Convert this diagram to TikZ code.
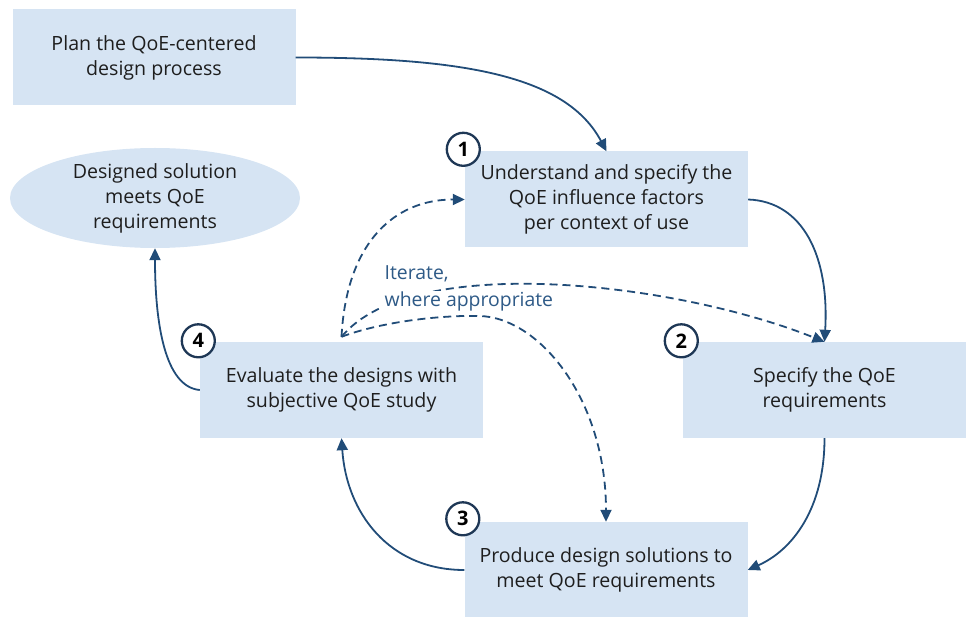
\documentclass[tikz,border=0pt]{standalone}
\usepackage{fontspec}
\setmainfont{Open Sans}
\usetikzlibrary{shapes.geometric,arrows.meta}
\definecolor{boxfill}{RGB}{214,228,243}
\definecolor{arrowc}{RGB}{33,76,120}
\definecolor{circc}{RGB}{30,55,85}
\definecolor{txtc}{RGB}{30,30,30}
\definecolor{lblc}{RGB}{46,90,135}
\begin{document}
\begin{tikzpicture}[x=1pt,y=-1pt,
  stepbox/.style={fill=boxfill, draw=none, minimum width=283pt, minimum height=96pt, inner sep=0pt, align=center, text=txtc, font=\fontsize{19.6}{25}\selectfont},
  endoval/.style={ellipse, fill=boxfill, draw=none, minimum width=290pt, minimum height=100pt, inner sep=0pt, align=center, text=txtc, font=\fontsize{19.6}{25}\selectfont},
  numc/.style={circle, draw=circc, line width=2.3pt, fill=white, minimum size=33pt, inner sep=0pt, text=black, font=\fontsize{20}{20}\selectfont\bfseries},
  flow/.style={draw=arrowc, line width=1.8pt, -{Triangle[length=12pt,width=11pt]}},
  iter/.style={flow, dash pattern=on 8pt off 5pt},
  lbl/.style={fill=white, text=lblc, inner sep=1.5pt, anchor=base west, font=\fontsize{19.4}{22}\selectfont}
]
\useasboundingbox (0,0) rectangle (966,617);

\node[stepbox] (plan) at (154,57.5) {Plan the QoE-centered\\design process};
\node[stepbox] (b1) at (606.5,199.5) {Understand and specify the\\QoE influence factors\\per context of use};
\node[stepbox] (b2) at (824.5,390) {Specify the QoE\\requirements};
\node[stepbox] (b3) at (606,570) {Produce design solutions to\\meet QoE requirements};
\node[stepbox] (b4) at (341.5,390) {Evaluate the designs with\\subjective QoE study};
\node[endoval] (done) at (155,198) {Designed solution\\meets QoE\\requirements};

\coordinate (O) at ([yshift=5pt]b4.north);
\coordinate (m1) at (480,316);

% solid flow
\draw[flow] (plan.east) .. controls +(170,0) and +(-40,-75) .. (b1.north);
\draw[flow] (b1.east) .. controls +(55,2) and +(5,-85) .. (b2.north);
\draw[flow] (b2.south) .. controls +(0,70) and +(45,-20) .. (b3.east);
\draw[flow] (b3.west) .. controls +(-75,0) and +(5,75) .. (b4.south);
\draw[flow] (b4.west) .. controls +(-35,-3) and +(0,75) .. (done.south);

% iteration (dashed)
\draw[iter] (O) .. controls +(5,-95) and +(-70,0) .. (b1.west);
\draw[iter] (O) .. controls +(70,-85) and +(-150,-60) .. (b2.north);
\draw[iter] (O) .. controls +(40,-15) and (440,315) .. (m1) .. controls (540,318) and (606,400) .. (b3.north);

\node[lbl] (it1) at (383,280) {Iterate,};
\node[lbl] (it2) at (383,307) {where appropriate};

% step numbers
\node[numc] (n1) at ([xshift=-1.5pt,yshift=2pt]b1.north west) {1};
\node[numc] (n2) at ([xshift=-1.5pt,yshift=1pt]b2.north west) {2};
\node[numc] (n3) at ([xshift=-1.5pt,yshift=3pt]b3.north west) {3};
\node[numc] (n4) at ([xshift=-1.5pt,yshift=1pt]b4.north west) {4};
\end{tikzpicture}
\end{document}
